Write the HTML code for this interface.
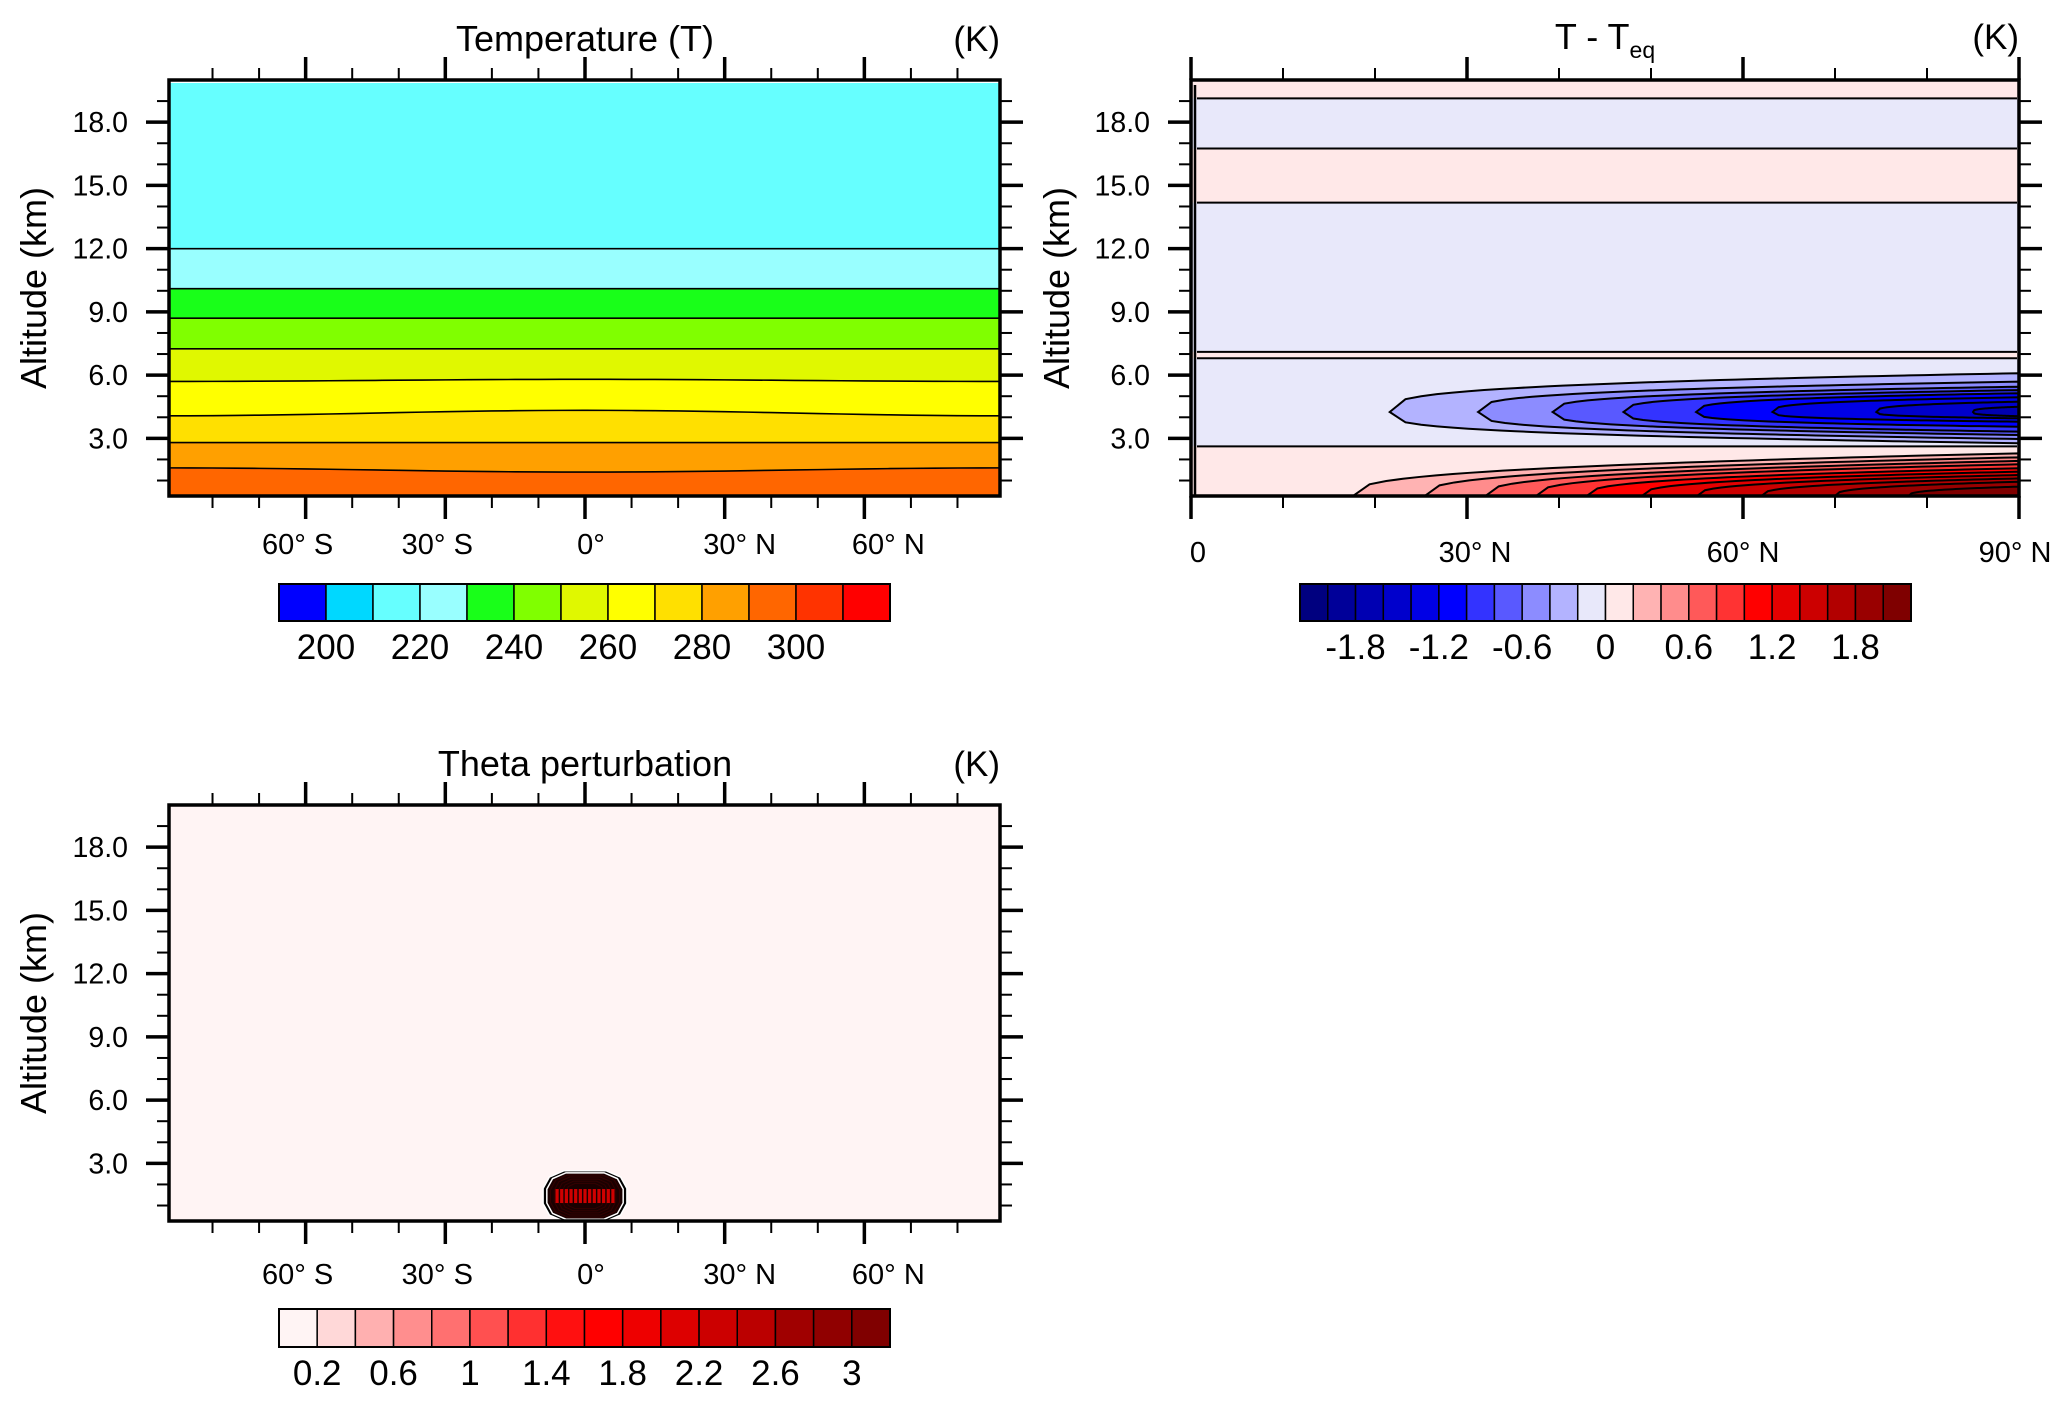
<!DOCTYPE html>
<html><head><meta charset="utf-8">
<style>
html,body{margin:0;padding:0;background:#fff;}
svg{display:block;font-family:"Liberation Sans",Arial,sans-serif;}
</style></head>
<body>
<svg id="fig" width="2067" height="1405" viewBox="0 0 2067 1405" xmlns="http://www.w3.org/2000/svg"></svg>
<script>
// ---------- data ----------
const tempEdgeKm   = [12.0, 10.1, 8.7, 7.25, 5.7, 4.07, 2.8, 1.6];
const tempCenterKm = [12.0, 10.1, 8.7, 7.25, 5.8, 4.33, 2.8, 1.4];
const tempBandColors = ["#66ffff","#99ffff","#19ff19","#80ff00","#e0f800","#ffff00","#ffe000","#ffa000","#ff6600"];
const tempBarColors = ["#0000ff","#00d8ff","#66ffff","#99ffff","#19ff19","#80ff00","#e0f800","#ffff00","#ffe000","#ffa000","#ff6600","#ff3300","#ff0000"];
const tempBarLabels = ["200","220","240","260","280","300"];
const tempBarLabelIdx = [1,3,5,7,9,11];

const bandBoundKm = [19.13, 16.75, 14.18, 7.1, 6.8, 2.62];
const bandColors  = ["#ffe8e8","#e8e8fa","#ffe8e8","#e8e8fa","#ffe8e8","#e8e8fa","#ffe8e8"];
const blueTipLat  = [21.6, 31.2, 39.3, 47, 54.9, 63.2, 74.5, 85];
const blueUpperKm = [6.09, 5.69, 5.45, 5.29, 5.14, 4.95, 4.74, 4.5];
const blueLowerKm = [2.77, 2.97, 3.16, 3.32, 3.55, 3.79, 3.95, 4.05];
const blueCenterKm = 4.25;
const blueColors  = ["#b3b3ff","#8c8cff","#5959ff","#3333ff","#0000ff","#0000e5","#0000cc","#0000b2"];
const redTipLat   = [17.6, 25.4, 32, 37.5, 43, 49, 55, 62, 70, 78];
const redTopKm    = [2.29, 2.1, 1.93, 1.77, 1.58, 1.42, 1.26, 1.1, 0.94, 0.71];
const redColors   = ["#ffb3b3","#ff8c8c","#ff5959","#ff3333","#ff0000","#e50000","#cc0000","#b20000","#990000","#7f0000"];
const diffBarColors = ["#00007f","#000099","#0000b2","#0000cc","#0000e5","#0000ff","#3333ff","#5959ff","#8c8cff","#b3b3ff","#e8e8fa","#ffe8e8","#ffb3b3","#ff8c8c","#ff5959","#ff3333","#ff0000","#e50000","#cc0000","#b20000","#990000","#7f0000"];
const diffBarLabels = ["-1.8","-1.2","-0.6","0","0.6","1.2","1.8"];
const diffBarLabelIdx = [2,5,8,11,14,17,20];

const blobHalfDeg = [9, 8.2, 7.4, 6.6, 5.8, 5.0, 4.2];
const blobHalfKm  = [1.2, 1.1, 1.0, 0.9, 0.8, 0.7, 0.6];
const blobCenterKm = 1.45;
const thetaBarColors = ["#fff4f4","#ffd8d8","#ffb0b0","#ff8e8e","#ff7070","#ff5050","#ff3030","#ff1010","#ff0000","#ee0000","#dd0000","#cc0000","#bb0000","#a00000","#900000","#800000"];
const thetaBarLabels = ["0.2","0.6","1","1.4","1.8","2.2","2.6","3"];
const thetaBarLabelIdx = [1,3,5,7,9,11,13,15];

const yMajor = [3,6,9,12,15,18];
const yMajorLabels = ["3.0","6.0","9.0","12.0","15.0","18.0"];

// ---------- helpers ----------
const NS = "http://www.w3.org/2000/svg";
const svg = document.getElementById("fig");
function el(tag, attrs, parent){
  const e = document.createElementNS(NS, tag);
  for (const k in attrs) e.setAttribute(k, attrs[k]);
  (parent||svg).appendChild(e);
  return e;
}
const PXKM = 21.08;
function mkY(top){ return km => top + (20 - km) * PXKM; }

function yAxis(g, L, R, top, bottom, y){
  for (let k = 1; k <= 19; k++){
    const yy = y(k);
    if (yy > bottom || yy < top) continue;
    const major = k % 3 === 0;
    const len = major ? 23 : 12, w = major ? 3.5 : 2;
    const t1 = el("line",{x1:L-len,x2:L,y1:yy,y2:yy,stroke:"#000","stroke-width":w},g);
    
    
    const t2 = el("line",{x1:R,x2:R+len,y1:yy,y2:yy,stroke:"#000","stroke-width":w},g);
    
    
  }
  yMajor.forEach((k,i)=>{
    const t = el("text",{x:L-41,y:y(k)+10,"text-anchor":"end","font-size":28.5},g);
    t.textContent = yMajorLabels[i];
    
    
  });
}
function xTicks(g, top, bottom, xs, majors){
  xs.forEach(v=>{
    const major = majors.includes(v.deg);
    const len = major ? 23 : 12, w = major ? 3.5 : 2;
    const a = el("line",{x1:v.x,x2:v.x,y1:top-len,y2:top,stroke:"#000","stroke-width":w},g);
    
    
    const b = el("line",{x1:v.x,x2:v.x,y1:bottom,y2:bottom+len,stroke:"#000","stroke-width":w},g);
    
    
  });
}
function latLabel(g, x, y, num, hemi){
  const t = el("text",{x:x,y:y,"text-anchor":"middle","font-size":29},g);
  t.textContent = hemi===null ? num : (num + "\u00b0 " + hemi);
  
  
}
function colorbar(g, x0, x1, y0, y1, colors, labels, idx, name){
  const n = colors.length, w = (x1-x0)/n;
  colors.forEach((c,i)=>{
    const r = el("rect",{x:x0+i*w,y:y0,width:w,height:y1-y0,fill:c,stroke:"#000","stroke-width":1.5},g);
    
    
  });
  const f = el("rect",{x:x0,y:y0,width:x1-x0,height:y1-y0,fill:"none",stroke:"#000","stroke-width":2},g);
  
  
  labels.forEach((s,i)=>{
    const t = el("text",{x:x0+idx[i]*w,y:y1+38,"text-anchor":"middle","font-size":35},g);
    t.textContent = s;
    
    
  });
}
function titles(g, cx, right, y, main, sub){
  const t = el("text",{x:cx,y:y,"text-anchor":"middle","font-size":36},g);
  t.textContent = main;
  if (sub){ const s = el("tspan",{"font-size":23,dy:9},t); s.textContent = sub; }
  
  
  const k = el("text",{x:right,y:y,"text-anchor":"end","font-size":35},g);
  k.textContent = "(K)";
  
  
}
function yTitle(g, x, y){
  const t = el("text",{x:x,y:y,"text-anchor":"middle","font-size":36,transform:`rotate(-90 ${x} ${y})`},g);
  t.textContent = "Altitude (km)";
  
  
}

// ---------- Panel 1 ----------
(function(){
  const L=169, R=1000, top=80, bottom=496;
  const y = mkY(top);
  const x = lat => 585 + lat * 4.656;
  const g = el("g",{});
  
  
  const cp = el("clipPath",{id:"c1"},g); el("rect",{x:L,y:top+3,width:R-L,height:bottom-top-3},cp);
  const fg = el("g",{"clip-path":"url(#c1)"},g);
  const bg = el("rect",{x:L,y:top,width:R-L,height:bottom-top,fill:tempBandColors[0]},fg);
  
  
  const lineY = (i,lat) => { const c = Math.cos(lat*Math.PI/180); return y(tempEdgeKm[i] + (tempCenterKm[i]-tempEdgeKm[i])*c*c); };
  tempEdgeKm.forEach((_,i)=>{
    let d = "";
    for (let lat=-90; lat<=90; lat+=5) d += (lat===-90?"M":"L") + x(lat) + "," + lineY(i,lat);
    const p = el("path",{d:d+`L${R+5},${bottom+5}L${L-5},${bottom+5}Z`,fill:tempBandColors[i+1]},fg);
    
    
  });
  tempEdgeKm.forEach((_,i)=>{
    let d = "";
    for (let lat=-90; lat<=90; lat+=5) d += (lat===-90?"M":"L") + x(lat) + "," + lineY(i,lat);
    const p = el("path",{d:d,fill:"none",stroke:"#000","stroke-width":1.6},fg);
    
    
  });
  const fr = el("rect",{x:L,y:top,width:R-L,height:bottom-top,fill:"none",stroke:"#000","stroke-width":3.5},g);
  
  
  yAxis(g,L,R,top,bottom,y);
  const xs=[]; for(let d=-80; d<=80; d+=10) xs.push({deg:d,x:x(d)});
  xTicks(g,top,bottom,xs,[-60,-30,0,30,60]);
  latLabel(g,x(-60)-8,554,"60","S"); latLabel(g,x(-30)-8,554,"30","S"); latLabel(g,x(0)+6,554,"0\u00b0",null);
  latLabel(g,x(30)+15,554,"30","N"); latLabel(g,x(60)+24,554,"60","N");
  titles(g,585,1000,51,"Temperature (T)");
  yTitle(g,46,288);
  colorbar(g,279,890,584,621,tempBarColors,tempBarLabels,tempBarLabelIdx,"temperature-colorbar");
})();

// ---------- Panel 2 ----------
(function(){
  const L=1191, R=2019, top=80, bottom=496;
  const y = mkY(top);
  const x = lat => L + lat * (R-L)/90;
  const g = el("g",{});
  
  
  const cp = el("clipPath",{id:"c2"},g); el("rect",{x:L,y:top,width:R-L,height:bottom-top},cp);
  const fg = el("g",{"clip-path":"url(#c2)"},g);
  const edges = [20].concat(bandBoundKm).concat([0]);
  for (let i=0;i<edges.length-1;i++){
    const r = el("rect",{x:L,y:y(edges[i]),width:R-L,height:y(edges[i+1])-y(edges[i]),fill:bandColors[i]},fg);
    
    
  }
  const bottomKm = (y(0)-bottom)/PXKM;
  blueTipLat.forEach((t,i)=>{
    let up="", lo=[];
    for (let s=0;s<=40;s++){
      const lat = t + (90-t)*s/40, f = Math.pow(s/40, 0.3);
      up += (s===0?"M":"L") + x(lat) + "," + y(blueCenterKm + (blueUpperKm[i]-blueCenterKm)*f);
      lo.push(x(lat) + "," + y(blueCenterKm - (blueCenterKm-blueLowerKm[i])*f));
    }
    const p = el("path",{d:up+"L"+lo.reverse().join("L")+"Z",fill:blueColors[i],stroke:"#000","stroke-width":2},fg);
    
    
  });
  redTipLat.forEach((t,i)=>{
    let d = `M${x(t)},${bottom+3}`;
    for (let s=0;s<=40;s++){
      const lat = t + (90-t)*s/40, f = Math.pow(s/40, 0.35);
      d += "L" + x(lat) + "," + y(bottomKm + (redTopKm[i]-bottomKm)*f);
    }
    d += `L${R+3},${bottom+3}Z`;
    const p = el("path",{d:d,fill:redColors[i],stroke:"#000","stroke-width":2},fg);
    
    
  });
  bandBoundKm.forEach(k=>{
    const l = el("line",{x1:L+6,x2:R-2,y1:y(k),y2:y(k),stroke:"#000","stroke-width":2},fg);
    
    
  });
  const vl = el("line",{x1:L+4,x2:L+4,y1:top+5,y2:bottom,stroke:"#000","stroke-width":2.5},fg);
  
  
  const fr = el("rect",{x:L,y:top,width:R-L,height:bottom-top,fill:"none",stroke:"#000","stroke-width":3.5},g);
  
  
  yAxis(g,L,R,top,bottom,y);
  const xs=[]; for(let d=0; d<=90; d+=10) xs.push({deg:d,x:x(d)});
  xTicks(g,top,bottom,xs,[0,30,60,90]);
  latLabel(g,x(0)+7,562,"0",null); latLabel(g,x(30)+8,562,"30","N");
  latLabel(g,x(60),562,"60","N"); latLabel(g,x(90)-4,562,"90","N");
  titles(g,1605,2019,49,"T - T","eq");
  yTitle(g,1069,288);
  colorbar(g,1300,1911,584,621,diffBarColors,diffBarLabels,diffBarLabelIdx,"difference-colorbar");
})();

// ---------- Panel 3 ----------
(function(){
  const L=169, R=1000, top=805, bottom=1221;
  const y = mkY(top);
  const x = lat => 585 + lat * 4.656;
  const g = el("g",{});
  
  
  const cp = el("clipPath",{id:"c3"},g); el("rect",{x:L,y:top,width:R-L,height:bottom-top},cp);
  const fg = el("g",{"clip-path":"url(#c3)"},g);
  const bg = el("rect",{x:L,y:top,width:R-L,height:bottom-top,fill:"#fff4f4"},fg);
  
  
  blobHalfDeg.forEach((hd,i)=>{
    const cx = x(0), cy = y(blobCenterKm), ax = hd*4.656, ay = blobHalfKm[i]*PXKM;
    const pts = [[-0.5,-1],[0.5,-1],[0.85,-0.75],[1,-0.3],[1,0.3],[0.85,0.75],[0.5,1],[-0.5,1],[-0.85,0.75],[-1,0.3],[-1,-0.3],[-0.85,-0.75]]
      .map(p=>(cx+p[0]*ax)+","+(cy+p[1]*ay)).join(" ");
    const p = el("polygon",{points:pts,fill:i===0?"#000":"#1a0000",stroke:i<2?"#fff":"#300",
      "stroke-width":i<2?1.5:1},fg);
    
    
  });
  for (let d=-6; d<=6; d+=1){
    const s = el("rect",{x:x(d)-1.6,y:y(blobCenterKm)-7,width:3.2,height:14,fill:"#d00000"},fg);
    
    
  }
  const fr = el("rect",{x:L,y:top,width:R-L,height:bottom-top,fill:"none",stroke:"#000","stroke-width":3.5},g);
  
  
  yAxis(g,L,R,top,bottom,y);
  const xs=[]; for(let d=-80; d<=80; d+=10) xs.push({deg:d,x:x(d)});
  xTicks(g,top,bottom,xs,[-60,-30,0,30,60]);
  latLabel(g,x(-60)-8,1284,"60","S"); latLabel(g,x(-30)-8,1284,"30","S"); latLabel(g,x(0)+6,1284,"0\u00b0",null);
  latLabel(g,x(30)+15,1284,"30","N"); latLabel(g,x(60)+24,1284,"60","N");
  titles(g,585,1000,776,"Theta perturbation");
  yTitle(g,46,1013);
  colorbar(g,279,890,1309,1347,thetaBarColors,thetaBarLabels,thetaBarLabelIdx,"theta-colorbar");
})();
</script>
</body></html>
